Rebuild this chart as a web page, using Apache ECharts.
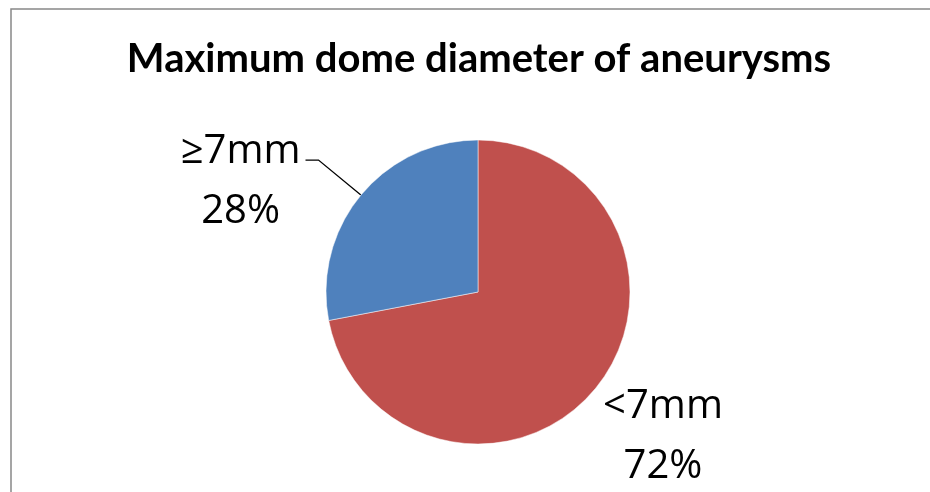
<!DOCTYPE html>
<html>
<head>
<meta charset="utf-8">
<style>
  html, body { margin: 0; padding: 0; background: #fff; }
  #chart { width: 930px; height: 492px; }
</style>
<script src="https://cdn.jsdelivr.net/npm/echarts@6/dist/echarts.min.js"></script>
</head>
<body>
<div id="chart"></div>
<script>
// Share of aneurysms by maximum dome diameter
const chartTitle = 'Maximum dome diameter of aneurysms';
const categories = ['<7mm', '≥7mm'];
const shares = [72, 28];
const sliceColors = ['#C0504D', '#4F81BD'];

const titleFont = 'Lato, "Open Sans", sans-serif';
const labelFont = '"Open Sans", Lato, sans-serif';

// Per-slice label placement: the small slice gets a leader line,
// the large one sits right beside its edge.
const labelSettings = [
  { label: { padding: [95, 0, 0, 3] }, labelLine: { show: false, length: 0, length2: 0 } },
  { label: { padding: [44, 0, 0, 0] }, labelLine: { show: true, length: 55, length2: 13 } }
];

const data = categories.map((name, i) => Object.assign({
  name: name,
  value: shares[i],
  itemStyle: { color: sliceColors[i] }
}, labelSettings[i]));

const chart = echarts.init(document.getElementById('chart'), null, { renderer: 'canvas' });

chart.setOption({
  backgroundColor: '#fff',
  animation: false,
  title: {
    text: chartTitle,
    left: 474,
    textAlign: 'center',
    top: 34,
    textStyle: {
      fontFamily: titleFont,
      fontWeight: 'bold',
      fontSize: 40,
      color: '#000'
    }
  },
  graphic: [{
    type: 'rect',
    silent: true,
    shape: { x: 11, y: 9, width: 1000, height: 1000 },
    style: { fill: 'none', stroke: '#888', lineWidth: 1.5 }
  }],
  series: [{
    type: 'pie',
    center: [478, 292],
    radius: 152,
    startAngle: 90,
    clockwise: true,
    avoidLabelOverlap: false,
    percentPrecision: 0,
    itemStyle: { borderColor: '#fff', borderWidth: 0.5 },
    emphasis: { disabled: true },
    label: {
      show: true,
      position: 'outside',
      distanceToLabelLine: 5,
      formatter: '{c|{b}}\n{c|{d}%}',
      rich: {
        c: {
          align: 'center',
          fontFamily: labelFont,
          fontSize: 40,
          lineHeight: 60,
          color: '#000'
        }
      }
    },
    labelLine: {
      lineStyle: { color: '#000', width: 1.3 }
    },
    data: data
  }]
});
</script>
</body>
</html>
